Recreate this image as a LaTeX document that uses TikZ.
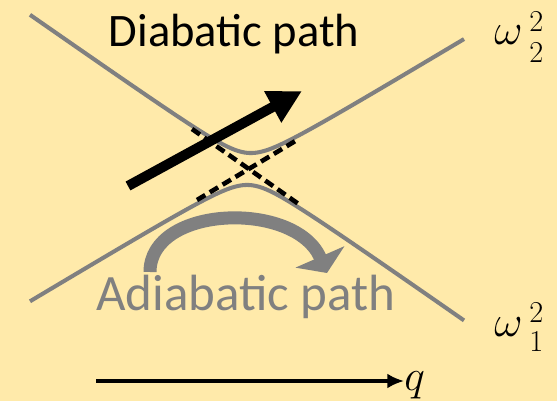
\documentclass[tikz,border=0pt]{standalone}
\usepackage{fontspec}
\setmainfont{Carlito}
\usepackage{tikz}
\usetikzlibrary{arrows.meta}

\definecolor{bgyellow}{RGB}{255,234,170}
\definecolor{curvegray}{RGB}{128,128,128}

\begin{document}
\begin{tikzpicture}[
                x=0.02cm, y=-0.02cm,
                curve/.style={curvegray, line width=2.3pt},
                crossing/.style={black, line width=2.6pt, dash pattern=on 5.5pt off 3pt},
                diabarrow/.style={-{Triangle[length=19pt, width=19pt]}, line width=5.7pt},
                adiabarrow/.style={-{Triangle[length=10pt, width=30pt]}, curvegray, line width=7.4pt},
                axis/.style={-{Latex[length=9.5pt, width=8.5pt]}, line width=1.8pt},
                pathlabel/.style={anchor=base, inner sep=0pt},
                levellabel/.style={anchor=base west, inner sep=0pt, font=\fontsize{25}{28}\selectfont},
                indexlabel/.style={anchor=base west, inner sep=0pt, font=\fontsize{17}{18}\selectfont}
            ]
            \useasboundingbox (0,0) rectangle (557,401);
            \fill[bgyellow] (0,0) rectangle (557,401);
            % adiabatic branches
            \draw[curve] plot[domain=30:464, samples=90, smooth]
                (\x, {169+0.05*(\x-249)-10*sqrt((0.065*(\x-249))^2+2.56)});
            \draw[curve] plot[domain=30:464, samples=90, smooth]
                (\x, {169+0.05*(\x-249)+10*sqrt((0.065*(\x-249))^2+2.56)});
            % diabatic crossing
            \coordinate (da1) at (192,129);
            \coordinate (da2) at (300,205);
            \coordinate (db1) at (197,200);
            \coordinate (db2) at (297,140);
            \draw[crossing] (da1) -- (da2);
            \draw[crossing] (db1) -- (db2);
            % paths
            \coordinate (dtail) at (128,186);
            \coordinate (dtip) at (302,91);
            \draw[diabarrow] (dtail) -- (dtip);
            \coordinate (atail) at (150,272);
            \coordinate (atip) at (327,273);
            \draw[adiabarrow] (atail) .. controls (150,205) and (295,200) .. (atip);
            \node[pathlabel, font=\fontsize{26.5}{30}\selectfont] (diab) at (234,47) {Diabatic path};
            \node[pathlabel, font=\fontsize{29}{33}\selectfont, text=curvegray] (adiab) at (246,311) {Adiabatic path};
            % levels
            \node[levellabel] (w2) at (494,45) {$\omega$};
            \node[indexlabel] (w2sup) at (529,32) {$2$};
            \node[indexlabel] (w2sub) at (529,63) {$2$};
            \node[levellabel] (w1) at (494,337) {$\omega$};
            \node[indexlabel] (w1sup) at (529,323) {$2$};
            \node[indexlabel] (w1sub) at (529,352) {$1$};
            % coordinate axis
            \coordinate (qstart) at (96,381);
            \node[levellabel, font=\fontsize{30}{34}\selectfont] (q) at (404,390) {$q$};
            \draw[axis] (qstart) -- (q.west |- qstart);
        \end{tikzpicture}
\end{document}
